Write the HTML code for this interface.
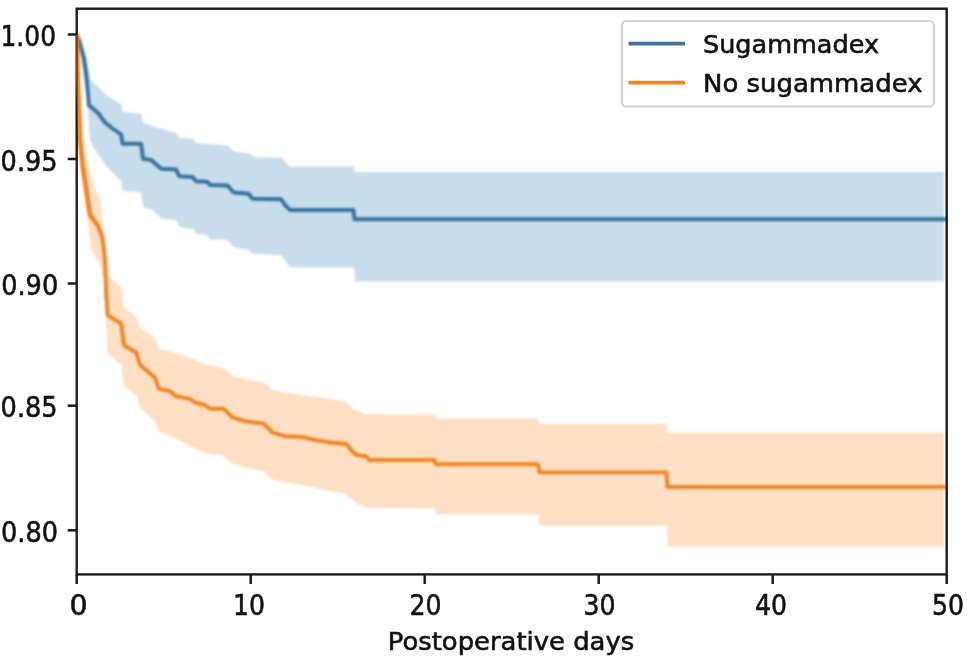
<!DOCTYPE html>
<html><head><meta charset="utf-8"><title>Postoperative days</title>
<style>
html,body{margin:0;padding:0;background:#fff;}
body{width:968px;height:659px;overflow:hidden;}
svg{display:block;}
text{font-family:"DejaVu Sans","Liberation Sans",sans-serif;font-size:25.5px;fill:#111;stroke:#111;stroke-width:0.6px;}
text.d{font-size:28.5px;}
</style></head><body>
<svg width="968" height="659" viewBox="0 0 968 659">
<rect width="968" height="659" fill="#fff"/>
<defs>
<filter id="b" color-interpolation-filters="sRGB" x="0" y="0" width="968" height="659" filterUnits="userSpaceOnUse"><feGaussianBlur stdDeviation="0.9"/></filter>
<filter id="b2" color-interpolation-filters="sRGB" x="0" y="0" width="968" height="659" filterUnits="userSpaceOnUse"><feGaussianBlur stdDeviation="0.55"/></filter>
<clipPath id="c2"><rect x="75" y="9" width="872" height="565.5"/></clipPath>
<clipPath id="c"><rect x="76.7" y="8.7" width="870" height="565.7"/></clipPath>
</defs>
<g filter="url(#b)">
<g clip-path="url(#c)">
<polygon points="77.0,34.0 82.0,40.0 87.0,60.0 91.0,80.0 107.5,96.0 121.2,104.0 122.5,112.0 141.2,113.5 143.0,122.5 155.0,127.0 176.2,133.0 179.2,137.5 192.5,138.8 196.2,143.0 227.5,145.5 233.8,151.2 250.0,153.8 253.8,157.0 282.5,158.0 285.0,162.0 289.5,166.5 354.3,166.5 354.8,172.0 944.0,172.0 944.0,281.5 354.8,281.5 354.3,267.5 290.0,267.5 285.0,261.0 281.2,255.0 252.5,253.8 248.8,250.0 233.8,247.5 227.5,240.0 210.0,239.5 207.5,235.0 196.2,233.8 192.5,228.8 179.2,227.0 176.2,220.0 161.2,218.8 152.5,210.0 143.0,207.5 141.2,192.5 122.5,191.2 121.2,181.2 107.5,167.5 95.0,150.0 90.0,140.0 88.0,110.0 84.0,80.0 79.0,45.0 77.0,34.0" fill="#1f77b4" fill-opacity="0.25"/>
<polygon points="77.0,34.0 80.0,100.0 85.0,150.0 95.0,190.0 101.0,200.0 102.5,220.0 105.0,240.0 108.0,265.0 110.0,277.5 121.2,287.5 123.8,307.5 136.2,316.2 140.0,327.5 155.0,337.5 158.8,348.8 170.0,351.2 190.0,357.5 205.0,364.0 223.8,368.0 232.5,375.5 245.0,379.0 263.8,382.5 272.5,390.0 302.5,395.0 330.0,398.8 345.0,401.2 355.0,410.0 366.2,414.3 435.2,414.6 435.8,418.4 538.5,418.6 539.2,423.8 667.0,423.8 667.7,432.5 944.0,432.5 944.0,546.4 667.7,546.4 667.0,525.5 539.2,525.5 538.5,514.2 435.8,514.2 435.2,508.4 366.2,507.8 356.2,503.0 345.0,493.8 330.0,491.2 302.5,485.0 272.5,480.0 263.8,471.2 245.0,467.5 232.5,463.8 223.8,456.2 205.0,452.5 190.0,446.2 170.0,435.5 158.8,432.0 155.0,421.0 140.0,407.5 136.2,395.0 123.8,386.2 121.2,365.0 107.5,352.5 106.0,320.0 105.0,285.0 100.0,265.0 91.0,250.0 87.5,220.0 82.5,190.0 80.0,165.0 77.5,120.0 77.0,34.0" fill="#ff7f0e" fill-opacity="0.25"/>
<polyline points="77.0,34.0 80.0,44.0 83.8,57.5 86.2,75.0 88.0,92.0 88.8,105.0 98.8,113.8 105.0,122.5 111.2,127.5 121.2,134.5 122.5,143.8 141.2,143.8 143.0,158.8 151.2,160.0 161.2,168.8 176.2,169.5 179.2,176.2 192.5,177.0 196.2,181.2 207.5,181.8 210.0,185.0 227.5,185.5 233.8,192.5 248.8,193.8 252.5,198.8 281.2,199.2 285.0,205.0 290.0,210.0 353.5,210.0 354.5,219.3 947.0,219.3" fill="none" stroke="#37729d" stroke-width="3.9" stroke-linejoin="round"/>
<polyline points="77.0,34.0 78.0,80.0 80.0,140.0 82.5,165.0 87.5,197.5 90.0,215.0 97.5,225.0 102.5,237.5 105.0,260.0 106.2,295.0 107.5,315.0 121.2,323.8 123.8,345.0 136.2,352.5 140.0,365.0 155.0,377.5 158.8,388.8 170.0,391.2 176.2,396.2 190.0,398.8 195.0,402.5 205.0,405.0 210.0,408.8 223.8,408.8 232.5,417.5 245.0,421.2 263.8,423.8 272.5,432.5 285.0,436.2 302.5,437.0 315.0,440.0 330.0,442.5 346.2,443.8 351.2,450.0 356.2,455.0 366.2,456.2 368.8,460.0 434.5,460.0 435.8,464.2 538.0,464.2 539.5,472.4 666.3,472.4 667.5,487.0 947.0,487.0" fill="none" stroke="#ef8322" stroke-width="3.9" stroke-linejoin="round"/>
</g>
</g>
<g filter="url(#b2)">
<rect x="76.7" y="8.7" width="870" height="565.7" fill="none" stroke="#1c1c1c" stroke-width="2.4"/>
<polyline points="77.0,34.0 78.0,80.0 80.0,140.0 82.5,165.0 87.5,197.5 90.0,215.0 97.5,225.0" fill="none" stroke="#ff7f0e" stroke-width="3.9" stroke-opacity="0.4" clip-path="url(#c2)"/>
<g stroke="#1c1c1c" stroke-width="2.5">
<line x1="76.7" y1="574.4" x2="76.7" y2="584"/><line x1="250.7" y1="574.4" x2="250.7" y2="584"/><line x1="424.7" y1="574.4" x2="424.7" y2="584"/><line x1="598.7" y1="574.4" x2="598.7" y2="584"/><line x1="772.7" y1="574.4" x2="772.7" y2="584"/><line x1="946.7" y1="574.4" x2="946.7" y2="584"/>
<line x1="67.7" y1="34.5" x2="76.7" y2="34.5"/><line x1="67.7" y1="159" x2="76.7" y2="159"/><line x1="67.7" y1="283.5" x2="76.7" y2="283.5"/><line x1="67.7" y1="405.7" x2="76.7" y2="405.7"/><line x1="67.7" y1="530.3" x2="76.7" y2="530.3"/>
</g>
<g text-anchor="middle">
<text class="d" x="78.5" y="614.5" textLength="18.1" lengthAdjust="spacingAndGlyphs">0</text><text class="d" x="249.1" y="614.5" textLength="32" lengthAdjust="spacingAndGlyphs">10</text><text class="d" x="425.5" y="614.5" textLength="32" lengthAdjust="spacingAndGlyphs">20</text><text class="d" x="599.5" y="614.5" textLength="32" lengthAdjust="spacingAndGlyphs">30</text><text class="d" x="771.1" y="614.5" textLength="32" lengthAdjust="spacingAndGlyphs">40</text><text class="d" x="948.0" y="614.5" textLength="32" lengthAdjust="spacingAndGlyphs">50</text>
<text x="511" y="650" textLength="246.5" lengthAdjust="spacingAndGlyphs">Postoperative days</text>
</g>
<g text-anchor="end">
<text class="d" x="56" y="45.7" textLength="55.5" lengthAdjust="spacingAndGlyphs">1.00</text><text class="d" x="57.6" y="170.5" textLength="57" lengthAdjust="spacingAndGlyphs">0.95</text><text class="d" x="58.2" y="295.0" textLength="57" lengthAdjust="spacingAndGlyphs">0.90</text><text class="d" x="57.6" y="417.2" textLength="57" lengthAdjust="spacingAndGlyphs">0.85</text><text class="d" x="58" y="541.8" textLength="57" lengthAdjust="spacingAndGlyphs">0.80</text>
</g>
<rect x="622" y="21" width="312" height="85.5" rx="4.5" fill="#fff" fill-opacity="0.8" stroke="#d2d2d2" stroke-width="2"/>
<line x1="628.5" y1="43.6" x2="685" y2="43.6" stroke="#3f739c" stroke-width="3.9"/>
<line x1="628.5" y1="82.6" x2="685" y2="82.6" stroke="#f5841f" stroke-width="3.9"/>
<text x="703" y="53">Sugammadex</text>
<text x="703" y="92" textLength="219.5" lengthAdjust="spacingAndGlyphs">No sugammadex</text>
</g>
</svg>
</body></html>
